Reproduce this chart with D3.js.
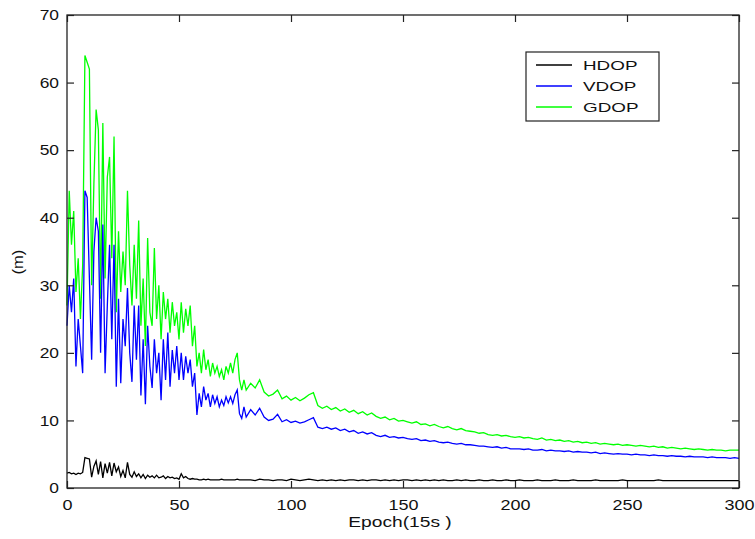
<!DOCTYPE html>
<html>
<head>
<meta charset="utf-8">
<script src="https://cdn.jsdelivr.net/npm/d3@7"></script>
<style>
  body { margin: 0; background: #fff; }
  text { font-family: "Liberation Sans", Arial, sans-serif; fill: #111; }
</style>
</head>
<body>
<div id="chart"></div>
<script>
// epochs: every epoch up to 80, then every second epoch
var epochs = d3.range(0, 81).concat(d3.range(82, 301, 2));

// DOP values (m)
var gdopHead = [27, 44, 36, 41, 29, 34, 25, 33, 64, 63,
	62, 30, 45, 56, 53, 28, 54, 31, 46, 49,
	34, 52, 26, 38, 29, 35, 30, 44, 33, 27,
	36, 28, 39.6, 24, 31, 21, 37, 26, 24, 35.5,
	25, 30, 22, 29, 25, 28, 23, 27.5, 24, 26,
	22, 27.5, 23, 26.5, 24, 27, 21, 24, 18, 20,
	17, 20.5, 17.5, 19, 16.5, 18.5, 17, 18, 16.5, 17.5,
	16, 18, 17, 18.5, 17, 19, 20, 16, 14.5, 16,
	14.5];
var gdopTail = [15.5, 14.8, 16.0, 14.2, 13.6, 13.9, 14.5, 13.2, 13.6, 13.0,
	13.4, 12.9, 13.3, 13.8, 14.1, 12.2, 11.8, 12.1, 11.6, 11.9,
	11.4, 11.7, 11.2, 11.5, 11.0, 11.3, 10.8, 11.1, 10.6, 10.3,
	10.5, 10.1, 10.3, 9.9, 10.0, 9.8, 9.6, 9.8, 9.4, 9.5,
	9.2, 9.4, 9.1, 8.9, 9.1, 8.8, 8.6, 8.8, 8.5, 8.4,
	8.3, 8.1, 8.2, 7.9, 7.8, 7.9, 7.7, 7.8, 7.6, 7.5,
	7.6, 7.4, 7.5, 7.3, 7.2, 7.4, 7.1, 7.2, 7.0, 7.1,
	6.9, 7.0, 6.8, 6.9, 6.7, 6.8, 6.6, 6.7, 6.5, 6.6,
	6.5, 6.4, 6.5, 6.3, 6.4, 6.3, 6.2, 6.3, 6.2, 6.1,
	6.2, 6.0, 6.1, 5.9, 6.0, 5.9, 5.8, 5.9, 5.8, 5.7,
	5.8, 5.7, 5.6, 5.7, 5.6, 5.6, 5.5, 5.6, 5.6, 5.6];

var vdopHead = [24, 30, 26, 31, 18, 25, 21, 17, 44, 43,
	31, 19, 35, 40, 38, 20, 39, 17, 27, 36,
	22, 36, 15, 28, 15.5, 25, 21, 29.6, 20, 15.7,
	27, 19, 27, 13.7, 22, 12.4, 24, 18, 14.8, 22,
	17, 20, 13, 22, 16, 23, 15, 20.4, 17, 21,
	16, 20, 16, 19.5, 17, 19, 15, 17, 10.8, 14,
	12, 15, 13, 14, 12, 13.8, 12.5, 13.5, 12, 13,
	12.2, 13.5, 12.6, 13.5, 12.5, 13.8, 14.5, 11, 10.3, 12,
	10.5];
var vdopTail = [11.6, 10.8, 11.8, 10.5, 10.0, 10.2, 10.9, 9.8, 10.1, 9.7,
	9.9, 9.6, 9.8, 10.1, 10.4, 9.0, 8.8, 9.0, 8.7, 8.9,
	8.5, 8.7, 8.3, 8.5, 8.1, 8.3, 8.0, 8.2, 7.8, 7.6,
	7.8, 7.5, 7.6, 7.4, 7.5, 7.3, 7.2, 7.3, 7.0, 7.1,
	6.9, 7.0, 6.8, 6.7, 6.8, 6.6, 6.5, 6.6, 6.4, 6.4,
	6.3, 6.2, 6.2, 6.1, 6.0, 6.1, 5.9, 6.0, 5.8, 5.8,
	5.8, 5.7, 5.8, 5.6, 5.6, 5.7, 5.5, 5.6, 5.5, 5.5,
	5.4, 5.5, 5.3, 5.4, 5.3, 5.3, 5.2, 5.3, 5.1, 5.2,
	5.1, 5.0, 5.1, 5.0, 5.0, 4.9, 5.0, 4.9, 4.9, 4.8,
	4.9, 4.8, 4.8, 4.7, 4.8, 4.7, 4.7, 4.6, 4.7, 4.6,
	4.6, 4.6, 4.5, 4.6, 4.5, 4.5, 4.5, 4.4, 4.5, 4.4];

var hdopHead = [2.2, 2.3, 2.1, 2.2, 2.0, 2.2, 2.1, 2.3, 4.5, 4.4,
	4.3, 1.6, 3.2, 4.0, 2.0, 3.9, 1.5, 3.6, 2.2, 3.8,
	1.8, 3.7, 2.4, 3.1, 1.7, 2.6, 1.5, 3.8, 2.0, 1.6,
	2.4, 1.7, 2.1, 1.5, 2.0, 1.4, 1.9, 1.6, 1.8, 1.5,
	1.9, 1.5, 1.6, 1.8, 1.4, 1.7, 1.5, 1.6, 1.4, 1.5,
	1.3, 2.1, 1.5, 1.7, 1.4, 1.3, 1.4, 1.3, 1.3, 1.2,
	1.2, 1.3, 1.2, 1.3, 1.2, 1.2, 1.2, 1.2, 1.2, 1.3,
	1.2, 1.2, 1.2, 1.2, 1.2, 1.2, 1.3, 1.2, 1.2, 1.2,
	1.2];
var hdopTail = [1.2, 1.1, 1.3, 1.2, 1.2, 1.1, 1.2, 1.2, 1.1, 1.3,
	1.2, 1.1, 1.2, 1.3, 1.2, 1.1, 1.2, 1.1, 1.2, 1.1,
	1.2, 1.1, 1.2, 1.2, 1.1, 1.2, 1.1, 1.2, 1.2, 1.1,
	1.2, 1.1, 1.2, 1.1, 1.2, 1.2, 1.1, 1.2, 1.1, 1.2,
	1.1, 1.2, 1.1, 1.2, 1.1, 1.1, 1.2, 1.1, 1.2, 1.1,
	1.1, 1.2, 1.1, 1.1, 1.2, 1.1, 1.1, 1.2, 1.1, 1.1,
	1.2, 1.1, 1.1, 1.1, 1.2, 1.1, 1.1, 1.1, 1.2, 1.1,
	1.1, 1.1, 1.2, 1.1, 1.1, 1.1, 1.1, 1.2, 1.1, 1.1,
	1.1, 1.1, 1.1, 1.2, 1.1, 1.1, 1.1, 1.1, 1.1, 1.1,
	1.1, 1.2, 1.1, 1.1, 1.1, 1.1, 1.1, 1.1, 1.1, 1.1,
	1.1, 1.1, 1.1, 1.1, 1.1, 1.1, 1.1, 1.1, 1.1, 1.1];

var xTicks = [0, 50, 100, 150, 200, 250, 300];
var yTicks = [0, 10, 20, 30, 40, 50, 60, 70];

var seriesNames = ["HDOP", "VDOP", "GDOP"];
var seriesColors = ["#000000", "#0000ff", "#00ff00"];
var seriesValues = [hdopHead.concat(hdopTail), vdopHead.concat(vdopTail), gdopHead.concat(gdopTail)];

// sizes
var width = 755;
var height = 539;
var margin = {left: 67, top: 15, right: 16, bottom: 51};
var axisColor = "#222";

var scaleX = d3.scaleLinear()
	.domain([0, 300])
	.range([margin.left, width - margin.right]);
var scaleY = d3.scaleLinear()
	.domain([0, 70])
	.range([height - margin.bottom, margin.top]);

var svg = d3.select("#chart")
	.append("svg")
	.attr("width", width)
	.attr("height", height);

svg.append("rect")
	.attr("width", width)
	.attr("height", height)
	.attr("fill", "#fff");

// widen glyphs a bit, the original text is drawn stretched
function stretch(sel, k) {
	sel.each(function() {
		var w = this.getComputedTextLength();
		d3.select(this)
			.attr("textLength", w * k)
			.attr("lengthAdjust", "spacingAndGlyphs");
	});
}

// data lines (green first so blue sits on top)
var line = d3.line()
	.x(function(d, i) { return scaleX(epochs[i]); })
	.y(function(d) { return scaleY(d); });

[2, 1, 0].forEach(function(s) {
	svg.append("path")
		.datum(seriesValues[s])
		.attr("fill", "none")
		.attr("stroke", seriesColors[s])
		.attr("stroke-width", 1.3)
		.attr("stroke-linejoin", "miter")
		.attr("d", line);
});

// axes, MATLAB style: ticks inward on all four sides
var xAxis = d3.axisBottom(scaleX).tickValues(xTicks)
	.tickSizeInner(-7).tickSizeOuter(0).tickPadding(11);
var yAxis = d3.axisLeft(scaleY).tickValues(yTicks)
	.tickSizeInner(-7).tickSizeOuter(0).tickPadding(8);
var xTop = d3.axisTop(scaleX).tickValues(xTicks)
	.tickSizeInner(-7).tickSizeOuter(0).tickFormat("");
var yRight = d3.axisRight(scaleY).tickValues(yTicks)
	.tickSizeInner(-7).tickSizeOuter(0).tickFormat("");

var gx = svg.append("g")
	.attr("transform", "translate(0," + (height - margin.bottom) + ")")
	.call(xAxis);
var gy = svg.append("g")
	.attr("transform", "translate(" + margin.left + ",0)")
	.call(yAxis);
svg.append("g")
	.attr("transform", "translate(0," + margin.top + ")")
	.call(xTop);
svg.append("g")
	.attr("transform", "translate(" + (width - margin.right) + ",0)")
	.call(yRight);

svg.selectAll(".domain").remove();
svg.selectAll(".tick line").attr("stroke", axisColor).attr("stroke-width", 1.2);
svg.selectAll(".tick text")
	.attr("fill", "#111")
	.style("font-family", "'Liberation Sans', Arial, sans-serif")
	.style("font-size", "15px");
stretch(gx.selectAll(".tick text"), 1.2);
stretch(gy.selectAll(".tick text"), 1.16);

// plot frame
svg.append("rect")
	.attr("x", scaleX(0))
	.attr("y", scaleY(70))
	.attr("width", scaleX(300) - scaleX(0))
	.attr("height", scaleY(0) - scaleY(70))
	.attr("fill", "none")
	.attr("stroke", axisColor)
	.attr("stroke-width", 1.3);

// axis labels
var xLabel = svg.append("text")
	.attr("x", 400)
	.attr("y", 527)
	.attr("text-anchor", "middle")
	.style("font-size", "15px")
	.text("Epoch(15s )");
stretch(xLabel, 1.28);

var yLabel = svg.append("text")
	.attr("transform", "translate(23,262) rotate(-90)")
	.attr("text-anchor", "middle")
	.style("font-size", "15px")
	.text("(m)");
stretch(yLabel, 1.1);

// legend
var legend = svg.append("g");
legend.append("rect")
	.attr("x", 526)
	.attr("y", 52)
	.attr("width", 133)
	.attr("height", 69)
	.attr("fill", "#fff")
	.attr("stroke", axisColor)
	.attr("stroke-width", 1.2);

seriesNames.forEach(function(name, i) {
	var cy = 65 + i * 21;
	legend.append("line")
		.attr("x1", 536)
		.attr("x2", 572)
		.attr("y1", cy)
		.attr("y2", cy)
		.attr("stroke", seriesColors[i])
		.attr("stroke-width", 1.3);
	var t = legend.append("text")
		.attr("x", 583)
		.attr("y", cy + 5)
		.style("font-size", "13px")
		.text(name);
	stretch(t, 1.45);
});
</script>
</body>
</html>
